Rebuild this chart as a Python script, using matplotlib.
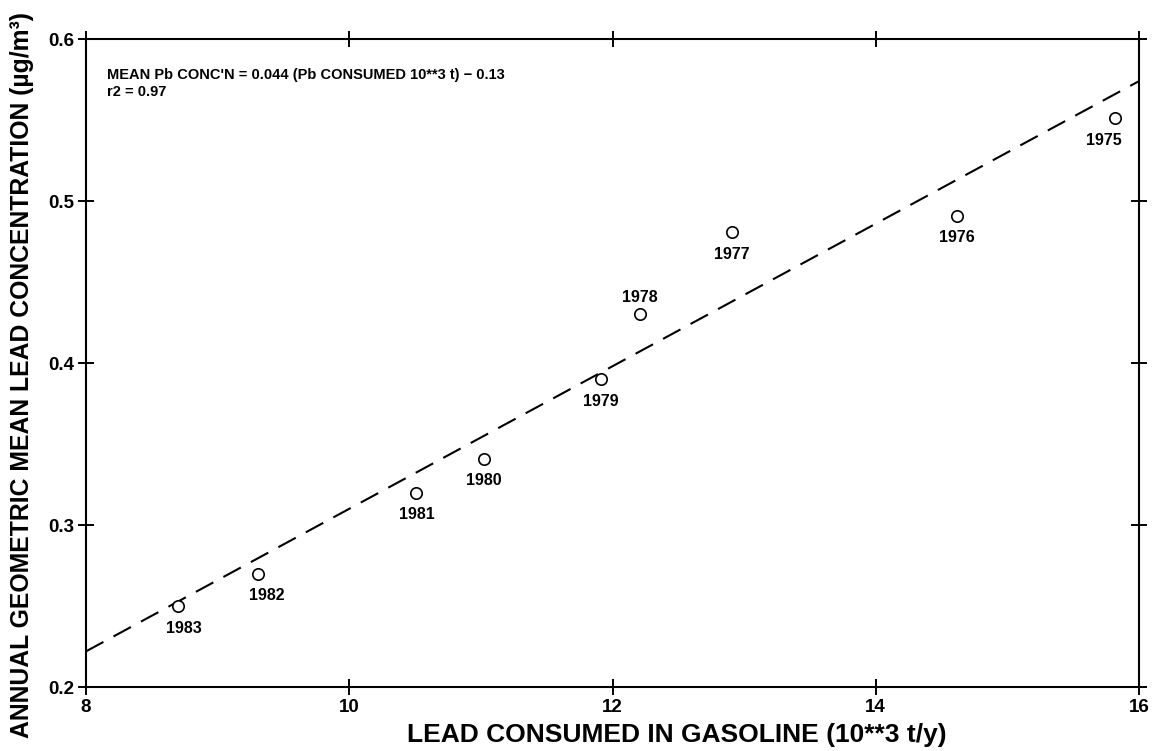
import numpy as np
import matplotlib
matplotlib.use('Agg')
import matplotlib.pyplot as plt

plt.rcParams['font.family'] = ['Liberation Sans', 'DejaVu Sans']

# Lead consumed in gasoline (10**3 t/y) vs annual geometric mean lead conc (ug/m3)
years = ['1975', '1976', '1977', '1978', '1979', '1980', '1981', '1982', '1983']
lead_consumed = [15.82, 14.62, 12.91, 12.21, 11.91, 11.02, 10.51, 9.31, 8.70]
lead_conc = [0.551, 0.491, 0.481, 0.430, 0.390, 0.341, 0.320, 0.270, 0.250]

# regression line coefficients, as printed on the chart
slope = 0.044
intercept = -0.13

# label offsets (points) for each year
label_offsets = {
    '1975': (-8, -16), '1976': (0, -16), '1977': (0, -16), '1978': (0, 12),
    '1979': (0, -16), '1980': (0, -16), '1981': (0, -16), '1982': (6, -16),
    '1983': (4, -16),
}

fig = plt.figure(figsize=(11.59, 7.51), dpi=100)
ax = fig.add_axes([86 / 1159, 1 - 687 / 751, (1139 - 86) / 1159, (687 - 39) / 751])

xs = np.array([8, 16])
ax.plot(xs, slope * xs + intercept, color='black', lw=1.5, dashes=(9.5, 5.5))

ax.plot(lead_consumed, lead_conc, 'o', ms=8.2, mfc='white', mec='black', mew=1.2,
        zorder=3)

for yr, x, y in zip(years, lead_consumed, lead_conc):
    dx, dy = label_offsets[yr]
    ax.annotate(yr, (x, y), xytext=(dx, dy), textcoords='offset points',
                ha='center', va='center', fontsize=11.5, fontweight='bold')

ax.text(0.02, 0.955, "MEAN Pb CONC'N = 0.044 (Pb CONSUMED 10**3 t) \u2212 0.13\nr2 = 0.97",
        transform=ax.transAxes, ha='left', va='top', fontsize=10.5,
        fontweight='bold', linespacing=1.3)

ax.set_xlim(8, 16)
ax.set_ylim(0.2, 0.6)
ax.set_xticks([8, 10, 12, 14, 16])
ax.set_yticks([0.2, 0.3, 0.4, 0.5, 0.6])
ax.set_yticklabels(['0.2', '0.3', '0.4', '0.5', '0.6'])

for s in ax.spines.values():
    s.set_linewidth(1.5)
ax.tick_params(direction='inout', length=11, width=1.4, top=True, right=True,
               labelsize=13.5, pad=3)
for lab in ax.get_xticklabels() + ax.get_yticklabels():
    lab.set_fontweight('bold')

ax.set_xlabel('LEAD CONSUMED IN GASOLINE (10**3 t/y)', fontsize=19,
              fontweight='bold', va='center')
ax.xaxis.set_label_coords(0.561, -0.074)
ax.set_ylabel('ANNUAL GEOMETRIC MEAN LEAD CONCENTRATION (\u00b5g/m\u00b3)',
              fontsize=17.8, fontweight='bold', va='center', ha='center')
ax.yaxis.set_label_coords(-0.061, 0.482)

fig.savefig('out.png', dpi=100)
